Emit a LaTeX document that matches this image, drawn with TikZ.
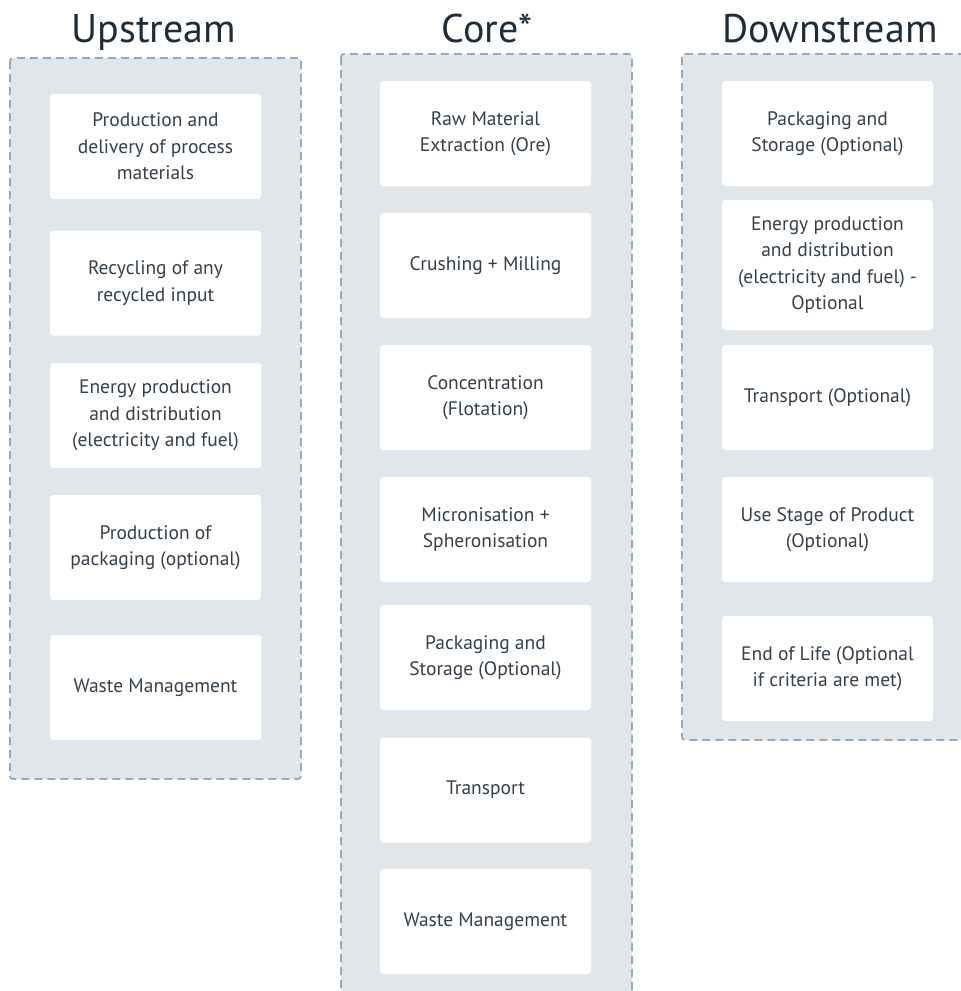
\documentclass[tikz,border=0pt]{standalone}
\usepackage{fontspec}
\setmainfont{PT Sans}
\definecolor{panel}{HTML}{E1E6EA}
\definecolor{dashc}{HTML}{9BA9B5}
\definecolor{txt}{HTML}{34404B}
\definecolor{ttl}{HTML}{1F2D3A}
\begin{document}
\begin{tikzpicture}[x=1pt,y=-1pt,
  panelbox/.style={fill=panel,draw=dashc,line width=1.8pt,dash pattern=on 8pt off 5pt,rounded corners=3pt},
  itembox/.style={fill=white,draw=none,rounded corners=3pt,minimum width=211pt,minimum height=105pt,inner sep=0pt,align=center,text=txt,font=\fontsize{19.5}{26.5}\selectfont},
  title/.style={anchor=base,text=ttl,font=\fontsize{40}{44}\selectfont}]
\clip (0,0) rectangle (961,991);
\fill[white] (0,0) rectangle (961,991);
% titles
\node[title] (tu) at (154,42) {Upstream};
\node[title] (tc) at (487,42) {Core*};
\node[title] (td) at (830,42) {Downstream};
% panels
\draw[panelbox] (10,58) rectangle (301,779);
\draw[panelbox] (341,54) rectangle (632,1010);
\draw[panelbox] (682,54) rectangle (980,740);
% upstream
\node[itembox] (u1) at (155.5,146.5) {Production and\\delivery of process\\materials};
\node[itembox] (u2) at (155.5,283) {Recycling of any\\recycled input};
\node[itembox] (u3) at (155.5,415.5) {Energy production\\and distribution\\(electricity and fuel)};
\node[itembox] (u4) at (155.5,547.5) {Production of\\packaging (optional)};
\node[itembox] (u5) at (155.5,687.5) {Waste Management};
% core
\node[itembox] (c1) at (485.5,133.5) {Raw Material\\Extraction (Ore)};
\node[itembox] (c2) at (485.5,265.5) {Crushing + Milling};
\node[itembox] (c3) at (485.5,397.5) {Concentration\\(Flotation)};
\node[itembox] (c4) at (485.5,529.5) {Micronisation +\\Spheronisation};
\node[itembox] (c5) at (485.5,657.5) {Packaging and\\Storage (Optional)};
\node[itembox] (c6) at (485.5,790) {Transport};
\node[itembox] (c7) at (485.5,921.5) {Waste Management};
% downstream
\node[itembox] (d1) at (827.5,133.5) {Packaging and\\Storage (Optional)};
\node[itembox,minimum height=130pt] (d2) at (827.5,265) {Energy production\\and distribution\\(electricity and fuel) -\\Optional};
\node[itembox] (d3) at (827.5,397.5) {Transport (Optional)};
\node[itembox] (d4) at (827.5,529.5) {Use Stage of Product\\(Optional)};
\node[itembox] (d5) at (827.5,668.5) {End of Life (Optional\\if criteria are met)};
\end{tikzpicture}
\end{document}
